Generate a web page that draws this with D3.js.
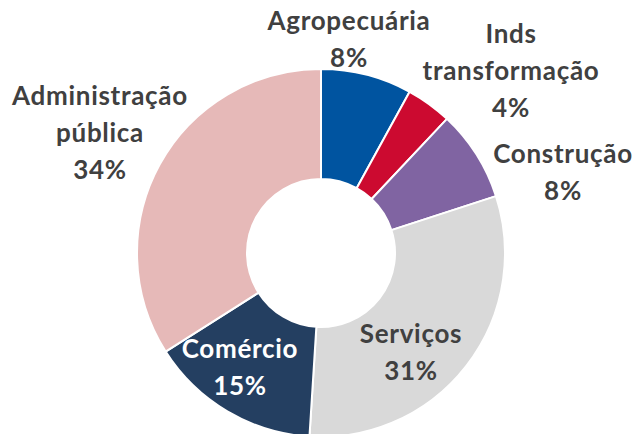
<!DOCTYPE html>
<html>
<head>
<meta charset="utf-8">
<script src="https://cdn.jsdelivr.net/npm/d3@7"></script>
<style>
  html, body { margin: 0; padding: 0; background: #fff; }
  svg { display: block; }
</style>
</head>
<body>
<svg></svg>
<script>
// chart data
var categories = ["Agropecuária", "Inds transformação", "Construção", "Serviços", "Comércio", "Administração pública"];
var values = [8, 4, 8, 31, 15, 34];
var labelLines = [
    ["Agropecuária"],
    ["Inds", "transformação"],
    ["Construção"],
    ["Serviços"],
    ["Comércio"],
    ["Administração", "pública"]
];

var colors = ["#0054A0", "#CC0A30", "#8064A2", "#D9D9D9", "#243F61", "#E6B9B8"];
var textColors = ["#404040", "#404040", "#404040", "#404040", "#ffffff", "#404040"];
// label anchor (center of first line baseline), relative to the donut center
var labelAnchor = [[28, -223], [190, -210], [242, -90], [90, 90], [-81, 105], [-221, -148]];

var svgWidth = 635, svgHeight = 434;
var cx = 321, cy = 253;
var outerR = 184, innerR = 74;
var lineStep = 37;

var svg = d3.select("svg")
    .attr("width", svgWidth)
    .attr("height", svgHeight);

var g = svg.append("g")
    .attr("transform", "translate(" + cx + "," + cy + ")");

var data = categories.map(function(c, i) {
    return { name: c, value: values[i], lines: labelLines[i], i: i };
});

var pie = d3.pie()
    .sort(null)
    .value(function(d) { return d.value; });

var arc = d3.arc()
    .innerRadius(innerR)
    .outerRadius(outerR);

var arcs = pie(data);

g.selectAll("path.slice")
    .data(arcs)
    .enter().append("path")
    .attr("class", "slice")
    .attr("d", arc)
    .attr("fill", function(d) { return colors[d.data.i]; })
    .attr("stroke", "#fff")
    .attr("stroke-width", 2)
    .attr("stroke-linejoin", "round");

var labels = g.selectAll("text.lbl")
    .data(arcs)
    .enter().append("text")
    .attr("class", "lbl")
    .attr("text-anchor", "middle")
    .attr("font-family", "Lato, 'Open Sans', sans-serif")
    .attr("font-weight", "bold")
    .attr("font-size", 26)
    .attr("letter-spacing", 0.7)
    .attr("fill", function(d) { return textColors[d.data.i]; })
    .attr("transform", function(d) {
        var p = labelAnchor[d.data.i];
        return "translate(" + p[0] + "," + p[1] + ")";
    });

labels.each(function(d) {
    var t = d3.select(this);
    var lines = d.data.lines.concat([d3.format(".0f")(d.data.value) + "%"]);
    lines.forEach(function(l, k) {
        t.append("tspan")
            .attr("x", 0)
            .attr("y", k * lineStep)
            .text(l);
    });
});
</script>
</body>
</html>
